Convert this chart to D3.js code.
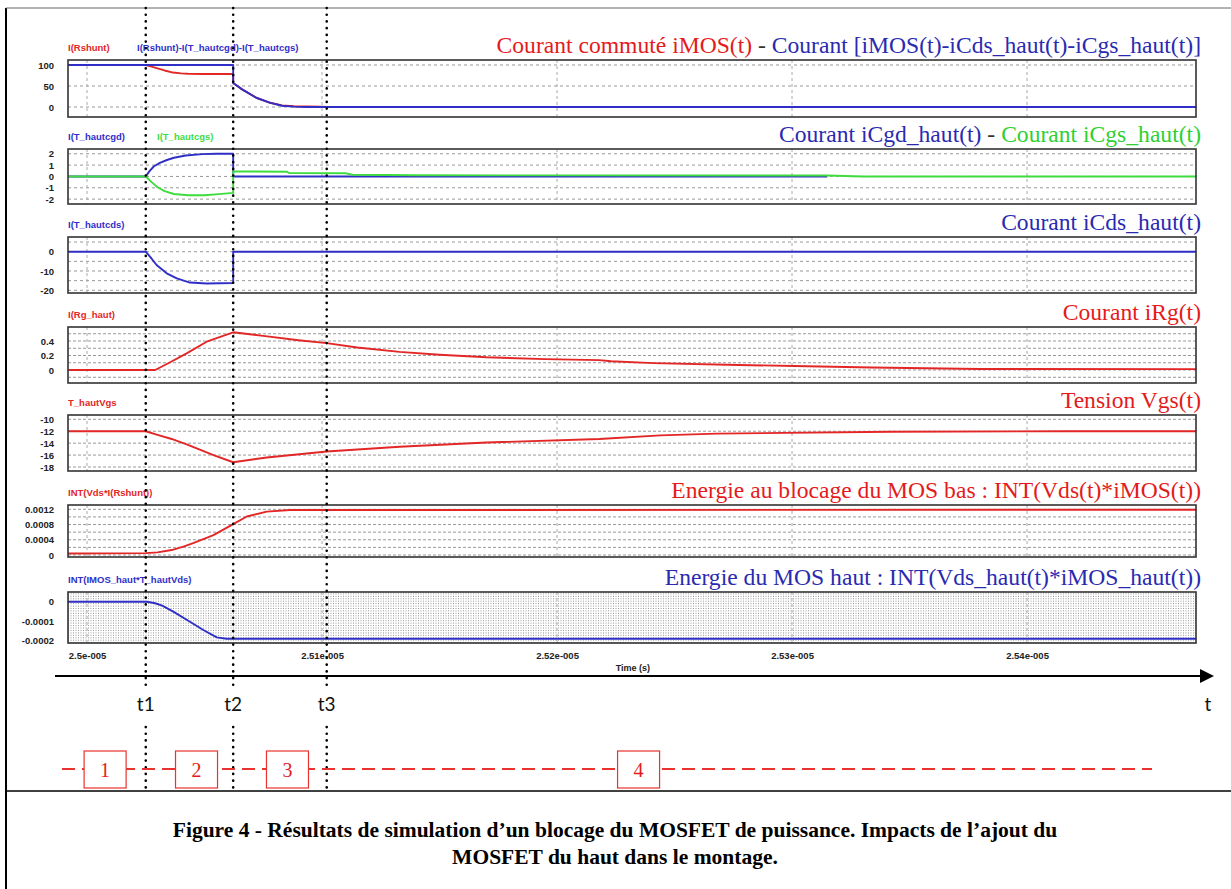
<!DOCTYPE html>
<html><head><meta charset="utf-8">
<script src="https://cdn.jsdelivr.net/npm/d3@7"></script>
<style>body{margin:0;background:#fff}svg{display:block}</style>
</head><body><svg id="c" width="1231" height="889"></svg>
<script>
// ---------- DATA (time in ns after 2.5e-005 s) ----------
const xTickValues = [0, 10, 20, 30, 40];
const xTickLabels = ["2.5e-005", "2.51e-005", "2.52e-005", "2.53e-005", "2.54e-005"];
const tMarks = [2.5, 6.22, 10.2];
const tLabels = ["t1", "t2", "t3"];
const phaseCenters = [0.77, 4.66, 8.53, 23.47];
const phaseLabels = ["1", "2", "3", "4"];

// Panel 1 : I(Rshunt) and I(Rshunt)-I(T_hautcgd)-I(T_hautcgs)
const iMOS = [[-0.81,100],[2.5,100],[2.75,96],[3.0,92],[3.3,87],[3.66,82],[4.0,80],[4.3,79],[5.0,78.5],[6.22,78.5],[6.22,57],[6.6,42],[7.2,22],[7.8,10],[8.3,4],[8.8,1.8],[9.4,1.2],[9.9,0.8],[10.3,0],[47.2,0]];
const iMOSnet = [[-0.81,100],[6.22,100],[6.22,57],[6.6,42],[7.2,22],[7.8,10],[8.3,3],[8.8,0.8],[9.3,0],[47.2,0]];
const p1Ticks = [0, 50, 100];
const p1TickLabels = ["0", "50", "100"];

// Panel 2 : I(T_hautcgd), I(T_hautcgs)
const iCgd = [[-0.81,0],[2.5,0],[2.65,0.45],[2.85,0.9],[3.1,1.2],[3.4,1.45],[3.7,1.65],[4.2,1.85],[4.9,1.97],[5.5,2.0],[6.22,2.0],[6.22,0],[31.5,0]];
const iCgs = [[-0.81,0],[2.5,0],[2.75,-0.5],[3.0,-0.95],[3.3,-1.3],[3.7,-1.55],[4.3,-1.66],[5.0,-1.66],[5.6,-1.56],[6.22,-1.45],[6.22,0.45],[8.5,0.42],[8.6,0.3],[11.0,0.28],[11.3,0.15],[14,0.1],[20,0.09],[31.5,0.08],[33,0],[47.2,0]];
const p2Ticks = [2, 1, 0, -1, -2];
const p2TickLabels = ["2", "1", "0", "-1", "-2"];

// Panel 3 : I(T_hautcds)
const iCds = [[-0.81,0],[2.5,0],[2.68,-2.6],[2.96,-6.9],[3.39,-11.2],[3.82,-13.8],[4.38,-16.0],[5.09,-16.5],[6.22,-16.2],[6.22,0],[47.2,0]];
const p3Ticks = [0, -10, -20];
const p3TickLabels = ["0", "-10", "-20"];

// Panel 4 : I(Rg_haut)
const iRg = [[-0.81,0],[2.9,0],[3.5,0.1],[4.24,0.23],[5.09,0.39],[6.22,0.52],[7.5,0.47],[9,0.41],[10.2,0.37],[11.5,0.31],[13.3,0.25],[15,0.21],[17,0.175],[19.5,0.15],[21.8,0.137],[22.3,0.12],[24.1,0.095],[27.7,0.07],[30.1,0.055],[33.4,0.035],[38,0.015],[47.2,0.012]];
const p4Ticks = [0.4, 0.2, 0];
const p4TickLabels = ["0.4", "0.2", "0"];

// Panel 5 : T_hautVgs
const vgs = [[-0.81,-12],[2.5,-12],[3.0,-12.6],[3.6,-13.3],[4.24,-14.2],[4.8,-15.1],[5.38,-16.0],[6.22,-17.2],[7.65,-16.4],[10.2,-15.4],[13.3,-14.6],[17,-13.9],[21.8,-13.3],[24.4,-12.7],[26.8,-12.4],[34.2,-12.1],[41.7,-12.0],[47.2,-12.0]];
const p5Ticks = [-10, -12, -14, -16, -18];
const p5TickLabels = ["-10", "-12", "-14", "-16", "-18"];

// Panel 6 : INT(Vds*I(Rshunt))
const eBas = [[-0.81,0.00004],[2.5,0.00005],[3.0,0.00007],[3.6,0.00013],[4.1,0.00022],[4.52,0.00031],[5.38,0.00052],[6.22,0.00081],[6.8,0.00101],[7.65,0.00114],[8.64,0.00118],[47.2,0.00119]];
const p6Ticks = [0.0012, 0.0008, 0.0004, 0];
const p6TickLabels = ["0.0012", "0.0008", "0.0004", "0"];

// Panel 7 : INT(IMOS_haut*T_hautVds)
const eHaut = [[-0.81,0],[2.55,0],[2.9,-0.000008],[3.2,-0.00002],[3.67,-0.000051],[4.38,-0.000103],[4.95,-0.000145],[5.52,-0.000183],[5.94,-0.00019],[47.2,-0.00019]];
const p7Ticks = [0, -0.0001, -0.0002];
const p7TickLabels = ["0", "-0.0001", "-0.0002"];

// ---------- STYLE ----------
const RED = "#e32626", BLUE = "#2f2fc8", GREEN = "#3fdc3f";
const TRED = "#e41b1b", TBLUE = "#2a2ab0", TGREEN = "#2fd02f";

const svg = d3.select("#c");
const x = d3.scaleLinear().domain([-0.809, 47.19]).range([68, 1196]);

const panels = [
  {top:60, bottom:117, domain:[-23.8,111.9], ticks:p1Ticks, tickLabels:p1TickLabels, grid:[0,50,100], gdash:"3,3",
   series:[{d:iMOS,c:RED},{d:iMOSnet,c:BLUE}],
   labels:[{t:"I(Rshunt)",x:68,c:RED},{t:"I(Rshunt)-I(T_hautcgd)-I(T_hautcgs)",x:137,c:BLUE}],
   title:[{t:"Courant commuté iMOS(t)",c:TRED},{t:" - ",c:"#333"},{t:"Courant [iMOS(t)-iCds_haut(t)-iCgs_haut(t)]",c:TBLUE}]},
  {top:149, bottom:204, domain:[-2.43,2.42], ticks:p2Ticks, tickLabels:p2TickLabels, grid:[2,1,0,-1,-2], gdash:"3,3",
   series:[{d:iCgd,c:BLUE},{d:iCgs,c:GREEN}],
   labels:[{t:"I(T_hautcgd)",x:68,c:BLUE},{t:"I(T_hautcgs)",x:157,c:GREEN}],
   title:[{t:"Courant iCgd_haut(t)",c:TBLUE},{t:" - ",c:"#333"},{t:"Courant iCgs_haut(t)",c:TGREEN}]},
  {top:237, bottom:293, domain:[-21.4,7.6], ticks:p3Ticks, tickLabels:p3TickLabels, grid:[5,0,-5,-10,-15,-20], gdash:"3,3",
   series:[{d:iCds,c:BLUE}],
   labels:[{t:"I(T_hautcds)",x:68,c:BLUE}],
   title:[{t:"Courant iCds_haut(t)",c:TBLUE}]},
  {top:327, bottom:383, domain:[-0.179,0.593], ticks:p4Ticks, tickLabels:p4TickLabels, grid:d3.range(-0.1,0.55,0.1), gdash:"3,2",
   series:[{d:iRg,c:RED}],
   labels:[{t:"I(Rg_haut)",x:68,c:RED}],
   title:[{t:"Courant iRg(t)",c:TRED}]},
  {top:415, bottom:471, domain:[-18.67,-9.28], ticks:p5Ticks, tickLabels:p5TickLabels, grid:[-10,-12,-14,-16,-18], gdash:"3,2",
   series:[{d:vgs,c:RED}],
   labels:[{t:"T_hautVgs",x:68,c:RED}],
   title:[{t:"Tension Vgs(t)",c:TRED}]},
  {top:505, bottom:557, domain:[-0.0000525,0.001313], ticks:p6Ticks, tickLabels:p6TickLabels, grid:d3.range(0,0.00125,0.0002), gdash:"3,2",
   series:[{d:eBas,c:RED}],
   labels:[{t:"INT(Vds*I(Rshunt))",x:68,c:RED}],
   title:[{t:"Energie au blocage du MOS bas : INT(Vds(t)*iMOS(t))",c:TRED}]},
  {top:592, bottom:643, domain:[-0.0002118,0.0000497], ticks:p7Ticks, tickLabels:p7TickLabels, grid:d3.range(-0.00021,0.00005,0.0000125), gdash:"1,1.5",
   series:[{d:eHaut,c:BLUE}],
   labels:[{t:"INT(IMOS_haut*T_hautVds)",x:68,c:BLUE}],
   title:[{t:"Energie du MOS haut : INT(Vds_haut(t)*iMOS_haut(t))",c:TBLUE}]}
];

// frame
svg.append("line").attr("x1",6).attr("x2",6).attr("y1",8).attr("y2",889).attr("stroke","#000").attr("stroke-width",2);
svg.append("line").attr("x1",6).attr("x2",1231).attr("y1",8).attr("y2",8).attr("stroke","#666").attr("stroke-width",1);
svg.append("line").attr("x1",6).attr("x2",1231).attr("y1",791).attr("y2",791).attr("stroke","#000").attr("stroke-width",1.5);

panels.forEach(p => {
  const y = d3.scaleLinear().domain(p.domain).range([p.bottom, p.top]);
  const g = svg.append("g");
  g.append("rect").attr("x",68).attr("y",p.top).attr("width",1128).attr("height",p.bottom-p.top).attr("fill","#fff");
  g.selectAll(".hg").data(p.grid).join("line")
    .attr("x1",68).attr("x2",1196).attr("y1",d=>y(d)).attr("y2",d=>y(d))
    .attr("stroke","#999").attr("stroke-width",1).attr("stroke-dasharray",p.gdash);
  g.selectAll(".vg").data(xTickValues).join("line")
    .attr("x1",d=>x(d)).attr("x2",d=>x(d)).attr("y1",p.top).attr("y2",p.bottom)
    .attr("stroke","#aaa").attr("stroke-width",1).attr("stroke-dasharray","3,3");
  const line = d3.line().x(d=>x(d[0])).y(d=>y(d[1]));
  p.series.forEach(s => {
    g.append("path").attr("d",line(s.d)).attr("fill","none").attr("stroke",s.c).attr("stroke-width",1.9).attr("stroke-linejoin","round");
  });
  g.append("rect").attr("x",68).attr("y",p.top).attr("width",1128).attr("height",p.bottom-p.top)
    .attr("fill","none").attr("stroke","#333").attr("stroke-width",1.6);
  const ax = g.append("g").attr("transform","translate(68,0)")
    .call(d3.axisLeft(y).tickValues(p.ticks).tickFormat((d,i)=>p.tickLabels[i]).tickSize(0).tickPadding(14));
  ax.select(".domain").remove();
  ax.selectAll("text").attr("font-family","Liberation Sans, Arial, sans-serif").attr("font-weight","bold").attr("font-size",9.5).attr("fill","#222");
  p.labels.forEach(l => {
    g.append("text").attr("x",l.x).attr("y",p.top-9).text(l.t)
      .attr("font-family","Liberation Sans, Arial, sans-serif").attr("font-weight","bold").attr("font-size",9.5).attr("fill",l.c);
  });
  const tt = g.append("text").attr("x",1201).attr("y",p.top-7).attr("text-anchor","end")
    .attr("font-family","Liberation Serif, Times New Roman, serif").attr("font-size",23.6);
  p.title.forEach(s => tt.append("tspan").text(s.t).attr("fill",s.c));
});

// x axis labels
const xa = svg.append("g").attr("transform","translate(0,643)")
  .call(d3.axisBottom(x).tickValues(xTickValues).tickFormat((d,i)=>xTickLabels[i]).tickSize(0).tickPadding(9));
xa.select(".domain").remove();
xa.selectAll("text").attr("font-family","Liberation Sans, Arial, sans-serif").attr("font-weight","bold").attr("font-size",9.5).attr("fill","#222");
svg.append("text").attr("x",x(22.5)).attr("y",671).text("Time (s)")
  .attr("font-family","Liberation Sans, Arial, sans-serif").attr("font-weight","bold").attr("font-size",9).attr("fill","#222");

// time arrow
svg.append("line").attr("x1",55).attr("x2",1203).attr("y1",676).attr("y2",676).attr("stroke","#000").attr("stroke-width",2);
svg.append("path").attr("d","M1200,669 L1214,676 L1200,683 Z").attr("fill","#000");
svg.append("text").attr("x",1208).attr("y",711).attr("text-anchor","middle").text("t")
  .attr("font-family","Lato, Open Sans, sans-serif").attr("font-size",19).attr("fill","#111");

// t markers
tMarks.forEach((t,i) => {
  [[8,688],[727,791]].forEach(seg => {
    svg.append("line").attr("x1",x(t)).attr("x2",x(t)).attr("y1",seg[0]).attr("y2",seg[1])
      .attr("stroke","#000").attr("stroke-width",2.6).attr("stroke-linecap","round").attr("stroke-dasharray","0.1,6.6");
  });
  svg.append("text").attr("x",x(t)).attr("y",711).attr("text-anchor","middle").text(tLabels[i])
    .attr("font-family","Lato, Open Sans, sans-serif").attr("font-size",19).attr("fill","#111");
});

// phases
svg.append("line").attr("x1",62).attr("x2",1152).attr("y1",769).attr("y2",769)
  .attr("stroke","#e8332e").attr("stroke-width",2).attr("stroke-dasharray","13,7");
phaseCenters.forEach((c,i) => {
  svg.append("rect").attr("x",x(c)-21).attr("y",751).attr("width",42).attr("height",37)
    .attr("fill","#fff").attr("stroke","#e8332e").attr("stroke-width",1.2);
  svg.append("text").attr("x",x(c)).attr("y",777).attr("text-anchor","middle").text(phaseLabels[i])
    .attr("font-family","Liberation Serif, Times New Roman, serif").attr("font-size",20).attr("fill","#e41b1b");
});

// caption
const cap = ["Figure 4 - Résultats de simulation d’un blocage du MOSFET de puissance. Impacts de l’ajout du",
             "MOSFET du haut dans le montage."];
cap.forEach((s,i) => svg.append("text").attr("x",615).attr("y",837+i*27).attr("text-anchor","middle").text(s)
  .attr("font-family","Liberation Serif, Times New Roman, serif").attr("font-weight","bold").attr("font-size",21.5).attr("fill","#000"));
</script></body></html>
